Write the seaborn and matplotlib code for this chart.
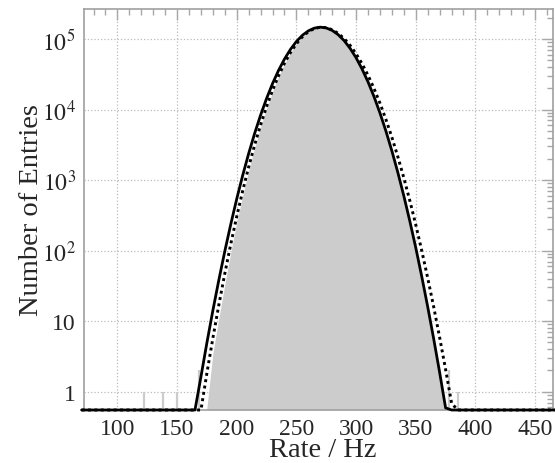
import numpy as np
import matplotlib
matplotlib.use("Agg")
import matplotlib.pyplot as plt
import matplotlib.ticker as mticker
import seaborn as sns

# rate bins (Hz) and values
fit_x = [70, 160, 165, 170, 175, 180, 185, 190, 195, 200, 205, 210, 215, 220, 225,
         230, 235, 240, 245, 250, 255, 260, 265, 270, 275, 280, 285, 290, 295, 300,
         305, 310, 315, 320, 325, 330, 335, 340, 345, 350, 355, 360, 365, 370, 375,
         380, 470]
fit_solid = [0.0, 0.15, 0.51, 1.63, 4.95, 14.2, 38.4, 98.2, 237, 542, 1169, 2381, 4589,
             8349, 14350, 23330, 35780, 51910, 71150, 92140, 112700, 130300, 142400,
             147000, 143400, 132100, 115100, 94670, 73600, 54080, 37530, 24620, 15260,
             8926, 4944, 2585, 1277, 596, 263, 110, 43.1, 16.0, 5.64, 1.88, 0.59, 0.17, 0.0]

alt_x = [70, 165, 170, 175, 180, 185, 190, 195, 200, 205, 210, 215, 220, 225, 230,
         235, 240, 245, 250, 255, 260, 265, 270, 275, 280, 285, 290, 295, 300, 305,
         310, 315, 320, 325, 330, 335, 340, 345, 350, 355, 360, 365, 370, 375, 380,
         385, 470]
fit_dotted = [0.0, 0.1, 0.55, 1.84, 5.76, 17.0, 47.4, 124, 305, 706, 1537, 3150, 6065,
              11000, 18740, 30030, 45280, 64190, 85630, 107400, 126700, 140600, 146800,
              144600, 135200, 120100, 101200, 81090, 61670, 44540, 30550, 19890, 12310,
              7231, 4032, 2136, 1075, 513, 233, 100, 41.0, 16.0, 5.89, 2.07, 0.69, 0.22, 0.0]

hist_x = [175, 180, 185, 190, 195, 200, 205, 210, 215, 220, 225, 230, 235, 240, 245,
          250, 255, 260, 265, 270, 275, 280, 285, 290, 295, 300, 305, 310, 315, 320,
          325, 330, 335, 340, 345, 350, 355, 360, 365, 370, 375]
hist_y = [0.6, 3.5, 11, 33, 95, 250, 600, 1350, 2850, 5600, 10300, 17800, 29000, 44500,
          63500, 85000, 107000, 126000, 140000, 146500, 143000, 132000, 115000, 94500,
          73500, 54000, 37500, 24500, 15200, 8800, 4850, 2500, 1220, 560, 240, 97, 37,
          13, 4.5, 1.6, 0.6]

# isolated single entries in the tails
spike_x = [122, 138, 150, 168, 378, 385]
spike_y = [1, 1, 1, 2, 2, 1]

y_floor = 0.55

sns.set_theme(style="white")
plt.rcParams["font.family"] = ["Liberation Serif", "DejaVu Serif"]
plt.rcParams["mathtext.fontset"] = "stix"

fig = plt.figure(figsize=(5.55, 4.64), dpi=100)
ax = fig.add_axes([84 / 555, 1 - 411 / 464, 469 / 555, 401 / 464])

ax.fill_between(hist_x, y_floor, np.clip(hist_y, y_floor, None), color="#cccccc",
                linewidth=0, zorder=2)
ax.vlines(spike_x, y_floor, spike_y, color="#cccccc", linewidth=1.6, zorder=2)

sns.lineplot(x=fit_x, y=np.clip(fit_solid, y_floor, None), ax=ax, color="black",
             linewidth=2.0, zorder=4, clip_on=False)
sns.lineplot(x=alt_x, y=np.clip(fit_dotted, y_floor, None), ax=ax, color="black",
             linewidth=2.1, linestyle=(0, (1, 1.2)), zorder=3, clip_on=False)

ax.set_yscale("log")
ax.set_xlim(72, 465)
ax.set_ylim(y_floor, 2.66e5)

ax.xaxis.set_major_locator(mticker.MultipleLocator(50))
ax.xaxis.set_minor_locator(mticker.MultipleLocator(10))
ax.yaxis.set_major_locator(mticker.LogLocator(base=10, numticks=10))
ax.yaxis.set_minor_locator(mticker.LogLocator(base=10, subs=np.arange(2, 10), numticks=20))
ax.yaxis.set_minor_formatter(mticker.NullFormatter())


def ylab(v, pos):
    e = int(round(np.log10(v)))
    if e == 0:
        return "1"
    if e == 1:
        return "10"
    return r"$10^{%d}$" % e


ax.yaxis.set_major_formatter(mticker.FuncFormatter(ylab))

ax.tick_params(which="both", direction="in", top=True, right=True, color="#a8a8a8",
               labelsize=17, pad=6)
ax.tick_params(which="major", length=8, width=1.0)
ax.tick_params(which="minor", length=4, width=1.0)

ax.grid(True, which="major", linestyle=":", color="#bbbbbb", linewidth=0.9)
ax.set_axisbelow(True)
for s in ax.spines.values():
    s.set_color("#a0a0a0")
    s.set_linewidth(1.2)

ax.set_xlabel("Rate / Hz", fontsize=20.5)
ax.set_ylabel("Number of Entries", fontsize=20.5)
ax.xaxis.set_label_coords(0.51, -0.068)
ax.yaxis.set_label_coords(-0.085, 0.5)

fig.savefig("out.png", dpi=100)
